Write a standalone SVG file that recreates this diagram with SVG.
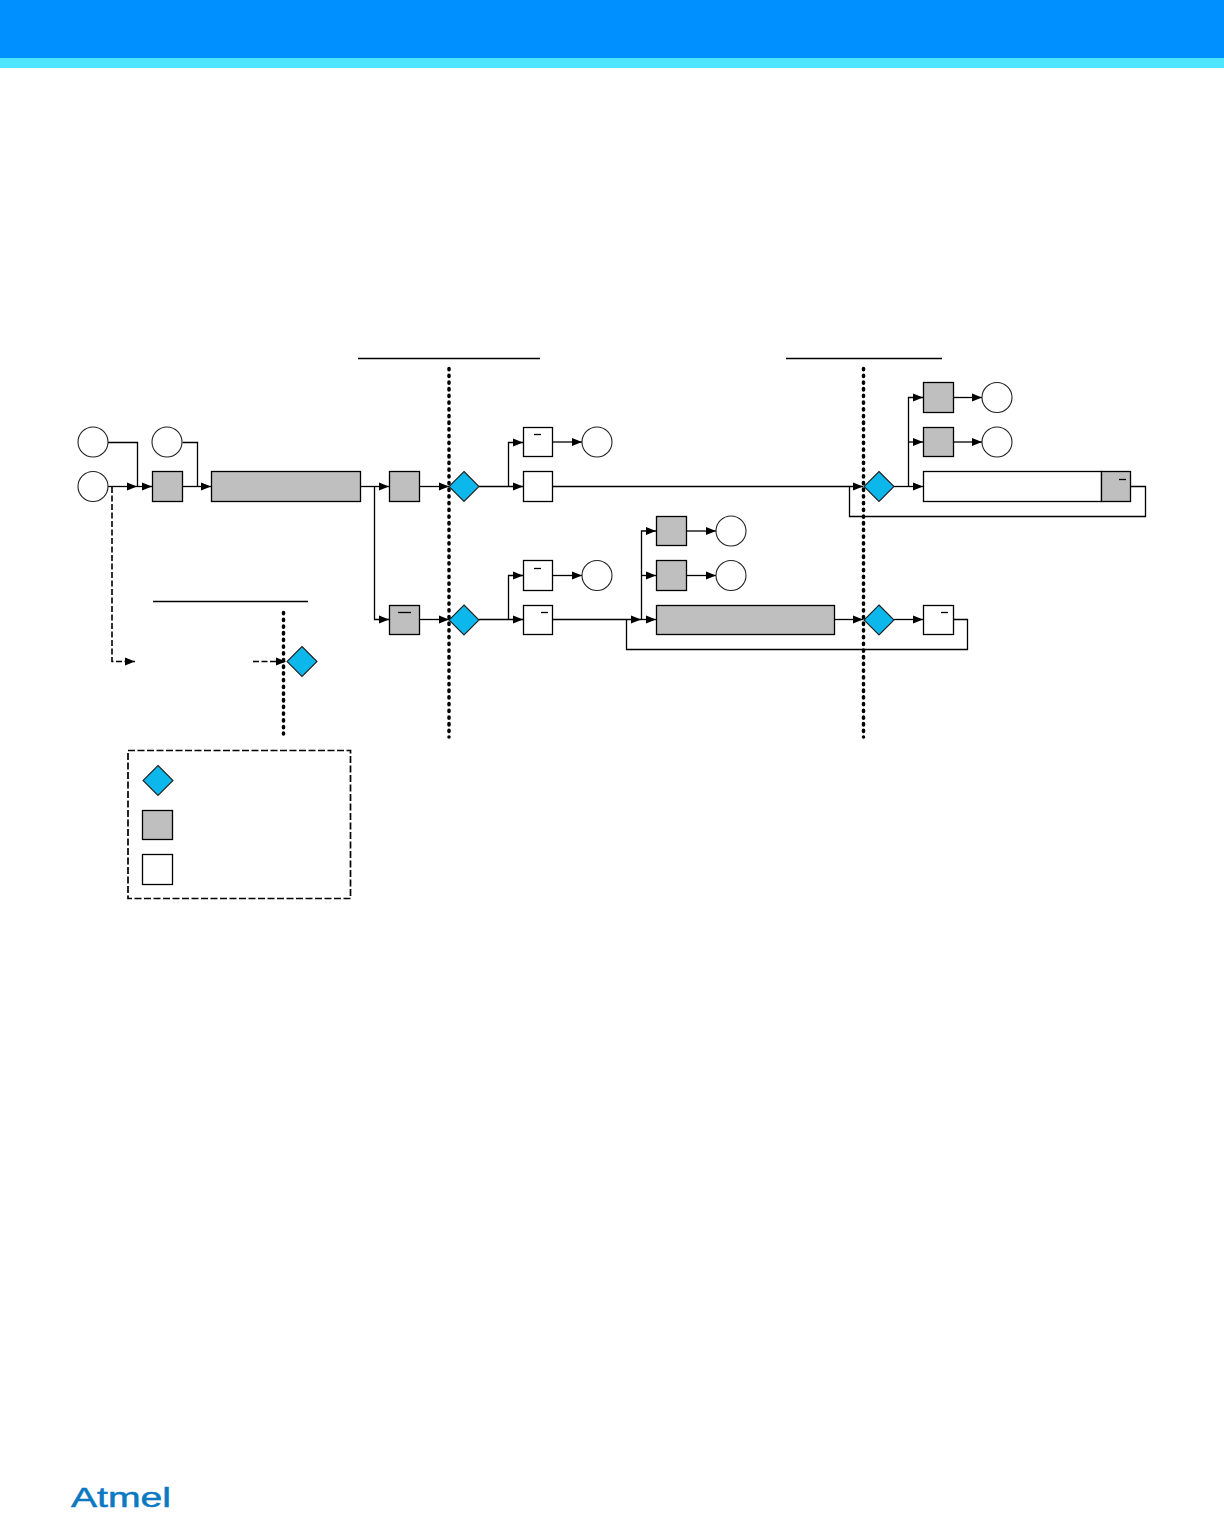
<svg xmlns="http://www.w3.org/2000/svg" width="1224" height="1513" viewBox="0 0 1224 1513">
<style>
.g{fill:#bfbfbf;stroke:#000;stroke-width:1.3}
.w{fill:#fff;stroke:#000;stroke-width:1.3}
.d{fill:#0cb7eb;stroke:#222;stroke-width:1.1}
.c{fill:#fff;stroke:#222;stroke-width:1.1}
.l{fill:none;stroke:#000;stroke-width:1.3}
.a{fill:none;stroke:#000;stroke-width:1.3;marker-end:url(#ah)}
.ad{fill:none;stroke:#000;stroke-width:1.6;stroke-dasharray:6 2.5;marker-end:url(#ah)}
.dot{fill:none;stroke:#000;stroke-width:3.5;stroke-linecap:round;stroke-dasharray:1.3 5.4}
.bar{stroke:#000;stroke-width:1.3;fill:none}
</style>
<defs>
<marker id="ah" markerUnits="userSpaceOnUse" markerWidth="11" markerHeight="9" refX="10.5" refY="4.5" orient="auto"><path d="M0.5 0.6L10.5 4.5L0.5 8.4Z" fill="#000"/></marker>
</defs>
<rect x="0" y="0" width="1224" height="58" fill="#0090ff"/>
<rect x="0" y="58" width="1224" height="10" fill="#4de5ff"/>

<g id="dividers">
<path class="dot" d="M449 368.5V737"/>
<path class="dot" d="M863.5 368.5V737"/>
<path class="dot" d="M283.5 612.5V734"/>
<path class="l" d="M358 358.5H540M786 358.5H942M153 601.5H308"/>
</g>

<g id="connectors">
<path class="l" d="M108 442.5H137.5V486.5"/>
<path class="a" d="M108 486.5H137"/>
<path class="a" d="M137 486.5H152"/>
<path class="l" d="M182.5 442.5H197.5V486.5"/>
<path class="a" d="M183 486.5H211"/>
<path class="a" d="M361 486.5H389"/>
<path class="a" d="M374.5 486.5V619.5H389"/>
<path class="a" d="M420 486.5H449"/>
<path class="a" d="M479 486.5H523"/>
<path class="a" d="M508.5 486.5V442.5H523"/>
<path class="a" d="M553 442H582"/>
<path class="a" d="M553 486.5H863"/>
<path class="a" d="M894 486.5H923"/>
<path class="a" d="M908.5 486.5V397.5H923"/>
<path class="a" d="M908.5 442H923"/>
<path class="a" d="M954 397.5H982"/>
<path class="a" d="M954 442H982"/>
<path class="l" d="M1131 486.5H1145.5V516.5H849.5V486.5"/>
<path class="a" d="M420 619.5H449"/>
<path class="a" d="M479 619.5H523"/>
<path class="a" d="M508.5 619.5V575.5H523"/>
<path class="a" d="M553 575.5H582"/>
<path class="a" d="M553 619.5H641"/>
<path class="a" d="M641 619.5H656"/>
<path class="a" d="M641.5 619.5V531H656"/>
<path class="a" d="M641.5 575.5H656"/>
<path class="a" d="M687 531H716"/>
<path class="a" d="M687 575.5H716"/>
<path class="a" d="M835 619.5H863"/>
<path class="a" d="M894 619.5H923"/>
<path class="l" d="M954 619.5H967.5V649.5H626.5V619.5"/>
<path class="ad" d="M112 487V661.5H135"/>
<path class="ad" d="M253 661.5H286"/>
</g>

<g id="n1"><ellipse class="c" cx="93" cy="442" rx="15" ry="15"/></g>
<g id="n2"><ellipse class="c" cx="167" cy="442" rx="15" ry="15"/></g>
<g id="n3"><ellipse class="c" cx="93" cy="486.5" rx="15" ry="15"/></g>
<g id="n4"><rect class="g" x="152.5" y="471.5" width="30" height="30"/></g>
<g id="n5"><rect class="g" x="211.5" y="471.5" width="149" height="30"/></g>
<g id="n6"><rect class="g" x="389.5" y="471.5" width="30" height="30"/></g>
<g id="n7"><path class="d" d="M464 471.5L479 486.5L464 501.5L449 486.5Z"/></g>
<g id="n8"><rect class="w" x="523.5" y="427.5" width="29" height="29"/><path class="bar" d="M534 434.5H541"/></g>
<g id="n9"><rect class="w" x="523.5" y="471.5" width="29" height="30"/></g>
<g id="n10"><ellipse class="c" cx="597" cy="442" rx="15" ry="15"/></g>
<g id="n11"><path class="d" d="M879 471.5L894 486.5L879 501.5L864 486.5Z"/></g>
<g id="n12"><rect class="g" x="923.5" y="382.5" width="30" height="30"/></g>
<g id="n13"><ellipse class="c" cx="997" cy="397.5" rx="15" ry="15"/></g>
<g id="n14"><rect class="g" x="923.5" y="427.5" width="30" height="29"/></g>
<g id="n15"><ellipse class="c" cx="997" cy="442" rx="15" ry="15"/></g>
<g id="n16"><rect class="w" x="923.5" y="471.5" width="178" height="30"/><rect class="g" x="1101.5" y="471.5" width="29" height="30"/><path class="bar" d="M1119 479.5H1126"/></g>
<g id="n17"><rect class="g" x="389.5" y="605.5" width="30" height="29"/><path class="bar" d="M398 612.5H411"/></g>
<g id="n18"><path class="d" d="M464 605L479 620L464 635L449 620Z"/></g>
<g id="n19"><rect class="w" x="523.5" y="560.5" width="29" height="30"/><path class="bar" d="M534 568.5H541"/></g>
<g id="n20"><rect class="w" x="523.5" y="605.5" width="29" height="29"/><path class="bar" d="M541 612.5H548"/></g>
<g id="n21"><ellipse class="c" cx="597" cy="575.5" rx="15" ry="15"/></g>
<g id="n22"><rect class="g" x="656.5" y="516.5" width="30" height="29"/></g>
<g id="n23"><ellipse class="c" cx="731" cy="531" rx="15" ry="15"/></g>
<g id="n24"><rect class="g" x="656.5" y="560.5" width="30" height="30"/></g>
<g id="n25"><ellipse class="c" cx="731" cy="575.5" rx="15" ry="15"/></g>
<g id="n26"><rect class="g" x="656.5" y="605.5" width="178" height="29"/></g>
<g id="n27"><path class="d" d="M879 605L894 620L879 635L864 620Z"/></g>
<g id="n28"><rect class="w" x="923.5" y="605.5" width="30" height="29"/><path class="bar" d="M941 612.5H948"/></g>
<g id="n29"><path class="d" d="M302 646.5L317 661.5L302 676.5L287 661.5Z"/></g>

<g id="legend">
<rect x="128" y="750.5" width="222.5" height="148" fill="none" stroke="#000" stroke-width="1.7" stroke-dasharray="7 2.5"/>
<path class="d" d="M158 765.5L173 780.5L158 795.5L143 780.5Z"/>
<rect class="g" x="142.5" y="810.5" width="30" height="29"/>
<rect class="w" x="142.5" y="854.5" width="30" height="30"/>
</g>

<text id="logo" x="71" y="1507" font-family="'Liberation Sans',Arial,sans-serif" font-size="28" fill="#0b78c2" stroke="#0b78c2" stroke-width=".5" textLength="100" lengthAdjust="spacingAndGlyphs">Atmel</text>
</svg>
